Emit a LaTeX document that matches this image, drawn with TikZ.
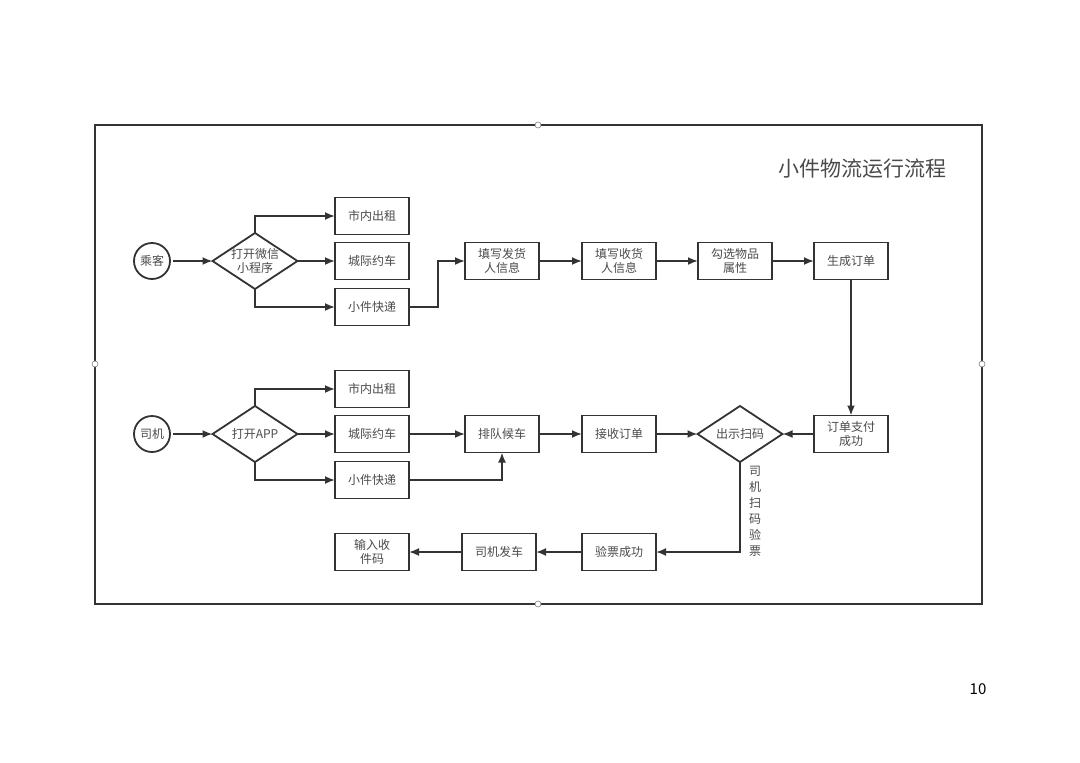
\documentclass[tikz,border=0pt]{standalone}
\usepackage{fontspec}
\setmainfont{Noto Sans CJK SC}
\usetikzlibrary{arrows.meta,shapes.geometric,calc}
\definecolor{ln}{HTML}{333333}
\definecolor{tx}{HTML}{4A4A4A}
\begin{document}
\begin{tikzpicture}[x=1pt,y=-1pt,
  every node/.style={outer sep=0pt},
  box/.style={draw=ln,line width=1.8pt,minimum width=74pt,minimum height=37pt,inner sep=1pt,align=center,text=tx,font=\fontsize{12}{14}\selectfont},
  dia/.style={draw=ln,line width=1.8pt,diamond,minimum width=85pt,minimum height=56pt,inner sep=0pt},
  dtxt/.style={align=center,text=tx,font=\fontsize{12}{14}\selectfont,inner sep=0pt},
  ring/.style={draw=ln,line width=1.8pt,circle,minimum size=36pt,inner sep=0pt,text=tx,font=\fontsize{12}{14}\selectfont},
  arr/.style={draw=ln,line width=1.8pt,-{Latex[length=10pt,width=8pt]}},
  handle/.style={draw=gray,fill=white,circle,minimum size=6pt,inner sep=0pt,line width=0.6pt}]
\useasboundingbox (0,0) rectangle (1080,763);
% frame
\draw[ln,line width=1.6pt] (95,125) rectangle (982,604);
\node[handle] (h1) at (538,125) {};
\node[handle] (h2) at (95,364) {};
\node[handle] (h3) at (982,364) {};
\node[handle] (h4) at (538,604) {};
\node[text=tx,font=\fontsize{21}{24}\selectfont,anchor=east] (title) at (950,169) {小件物流运行流程};
% row 1
\node[ring] (p1) at (152,261) {乘客};
\node[dia] (d1) at (255,261) {};
\node[dtxt] (d1t) at (d1) {打开微信\\小程序};
\node[box] (b11) at (372,216) {市内出租};
\node[box] (b12) at (372,261) {城际约车};
\node[box] (b13) at (372,307) {小件快递};
\node[box] (f1) at (502,261) {填写发货\\人信息};
\node[box] (f2) at (619,261) {填写收货\\人信息};
\node[box] (f3) at (735,261) {勾选物品\\属性};
\node[box] (f4) at (851,261) {生成订单};
% row 2
\node[ring] (p2) at (152,434) {司机};
\node[dia] (d3) at (255,434) {};
\node[dtxt] (d3t) at (d3) {打开APP};
\node[box] (c21) at (372,389) {市内出租};
\node[box] (c22) at (372,434) {城际约车};
\node[box] (c23) at (372,480) {小件快递};
\node[box] (q) at (502,434) {排队候车};
\node[box] (r) at (619,434) {接收订单};
\node[dia] (d2) at (740,434) {};
\node[dtxt] (d2t) at (d2) {出示扫码};
\node[box] (pay) at (851,434) {订单支付\\成功};
% row 3
\node[box] (ok) at (619,552) {验票成功};
\node[box] (go) at (499,552) {司机发车};
\node[box] (inp) at (372,552) {输入收\\件码};
% connectors row 1
\draw[arr] ([xshift=3pt]p1.east) -- (d1.west);
\draw[arr] (d1.north) |- (b11.west);
\draw[arr] (d1) -- (b12);
\draw[arr] (d1.south) |- (b13.west);
\draw[arr] (b13.east) -| ([xshift=-27pt]f1.west) -- (f1.west);
\draw[arr] (f1) -- (f2);
\draw[arr] (f2) -- (f3);
\draw[arr] (f3) -- (f4);
\draw[arr] (f4) -- (pay);
% connectors row 2
\draw[arr] ([xshift=3pt]p2.east) -- (d3.west);
\draw[arr] (d3.north) |- (c21.west);
\draw[arr] (d3) -- (c22);
\draw[arr] (d3.south) |- (c23.west);
\draw[arr] (c22) -- (q);
\draw[arr] (c23.east) -| (q.south);
\draw[arr] (q) -- (r);
\draw[arr] (r) -- (d2);
\draw[arr] (pay) -- (d2);
% row 3
\draw[arr] (d2.south) |- (ok.east);
\node[dtxt,font=\fontsize{12}{16}\selectfont,anchor=north] (lab) at (755,466) {司\\机\\扫\\码\\验\\票};
\draw[arr] (ok) -- (go);
\draw[arr] (go) -- (inp);
% page number
\node[font=\fontsize{15}{17}\selectfont,text=black] (pg) at (978,689) {10};
\end{tikzpicture}
\end{document}
